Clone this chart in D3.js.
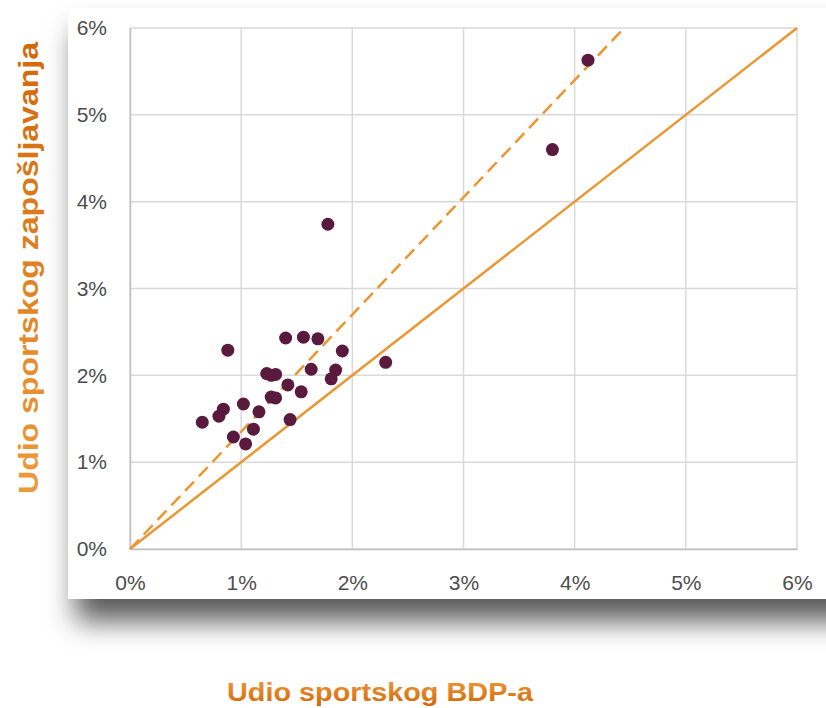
<!DOCTYPE html>
<html>
<head>
<meta charset="utf-8">
<script src="https://cdn.jsdelivr.net/npm/d3@7"></script>
<style>
  body { margin: 0; background: #fff; }
  svg { display: block; }
</style>
</head>
<body>
<svg id="chart"></svg>
<script>
const W = 826, H = 708;

// share of sport in GDP (%) vs share of sport in employment (%)
const gdpShare = [0.88, 1.40, 1.56, 1.69, 1.91, 2.30, 1.63, 1.85, 1.81, 1.23, 1.27, 1.31,
  1.42, 1.54, 1.02, 1.27, 1.31, 0.84, 0.80, 1.16, 0.65, 1.44, 1.11, 0.93, 1.04,
  4.12, 3.80, 1.78];
const empShare = [2.29, 2.43, 2.44, 2.42, 2.28, 2.15, 2.07, 2.06, 1.96, 2.02, 2.00, 2.01,
  1.89, 1.81, 1.67, 1.75, 1.74, 1.61, 1.53, 1.58, 1.46, 1.49, 1.38, 1.29, 1.21,
  5.63, 4.60, 3.74];
const ticks = [0, 1, 2, 3, 4, 5, 6];
const equalLine = [0, 6];       // y = x
const trendSlope = 1.35;        // dashed line y = 1.35 x
const xTitle = "Udio sportskog BDP-a";
const yTitle = "Udio sportskog zapošljavanja";

const margin = {top: 28, left: 130, right: 29, bottom: 159};

const svg = d3.select("#chart").attr("width", W).attr("height", H);
const defs = svg.append("defs");

let shadow = defs.append("filter").attr("id", "shadow")
  .attr("x", "-10%").attr("y", "-10%").attr("width", "130%").attr("height", "140%");
shadow.append("feDropShadow")
  .attr("dx", 8).attr("dy", 22).attr("stdDeviation", 14)
  .attr("flood-color", "#000").attr("flood-opacity", 0.65);

let grad = defs.append("linearGradient").attr("id", "titleGrad")
  .attr("x1", 0).attr("y1", 0).attr("x2", 0).attr("y2", 1);
grad.append("stop").attr("offset", "0%").attr("stop-color", "#ef9a3a");
grad.append("stop").attr("offset", "100%").attr("stop-color", "#d2680a");

let gradV = defs.append("linearGradient").attr("id", "titleGradV")
  .attr("x1", 0).attr("y1", 0).attr("x2", 1).attr("y2", 0);
gradV.append("stop").attr("offset", "0%").attr("stop-color", "#ef9a3a");
gradV.append("stop").attr("offset", "100%").attr("stop-color", "#d2680a");

// white panel with drop shadow
svg.append("rect")
  .attr("x", 68).attr("y", 8)
  .attr("width", 790).attr("height", 591)
  .attr("fill", "#fff")
  .attr("filter", "url(#shadow)");
svg.append("rect")
  .attr("x", 68).attr("y", 8)
  .attr("width", 790).attr("height", 591)
  .attr("fill", "#fff");

const x = d3.scaleLinear().domain([0, 6]).range([margin.left, W - margin.right]);
const y = d3.scaleLinear().domain([0, 6]).range([H - margin.bottom, margin.top]);

// grid
let grid = svg.append("g");
grid.selectAll("line.v").data(ticks).enter().append("line")
  .attr("x1", d => x(d)).attr("x2", d => x(d))
  .attr("y1", y(0)).attr("y2", y(6))
  .attr("stroke", "#d9d9d9").attr("stroke-width", 1.5);
grid.selectAll("line.h").data(ticks).enter().append("line")
  .attr("x1", x(0)).attr("x2", x(6))
  .attr("y1", d => y(d)).attr("y2", d => y(d))
  .attr("stroke", "#d9d9d9").attr("stroke-width", 1.5);

// axes
let xAxis = svg.append("g")
  .attr("transform", `translate(0,${y(0)})`)
  .call(d3.axisBottom(x).tickValues(ticks).tickSize(0).tickPadding(26).tickFormat(d => d + "%"));
let yAxis = svg.append("g")
  .attr("transform", `translate(${x(0)},0)`)
  .call(d3.axisLeft(y).tickValues(ticks).tickSize(0).tickPadding(23).tickFormat(d => d + "%"));
[xAxis, yAxis].forEach(a => {
  a.select(".domain").attr("stroke", "#bfbfbf").attr("stroke-width", 1.5);
  a.selectAll("text")
    .attr("fill", "#4d4d4d")
    .attr("font-family", "Liberation Sans, Arial, sans-serif")
    .attr("font-size", 21);
});

// reference lines
svg.append("line")
  .attr("x1", x(equalLine[0])).attr("y1", y(equalLine[0]))
  .attr("x2", x(equalLine[1])).attr("y2", y(equalLine[1]))
  .attr("stroke", "#eb9630").attr("stroke-width", 2.5);
const trendEnd = 6 / trendSlope;
svg.append("line")
  .attr("x1", x(0)).attr("y1", y(0))
  .attr("x2", x(trendEnd)).attr("y2", y(trendEnd * trendSlope))
  .attr("stroke", "#eb9630").attr("stroke-width", 2.5)
  .attr("stroke-dasharray", "13,7");

// points
svg.append("g").selectAll("circle")
  .data(gdpShare.map((g, i) => [g, empShare[i]]))
  .enter().append("circle")
  .attr("cx", d => x(d[0]))
  .attr("cy", d => y(d[1]))
  .attr("r", 6.5)
  .attr("fill", "#5a1a3d");

// axis titles
svg.append("text")
  .attr("x", 380).attr("y", 701)
  .attr("text-anchor", "middle")
  .attr("font-family", "Liberation Sans, Arial, sans-serif")
  .attr("font-weight", "bold")
  .attr("font-size", 25)
  .attr("textLength", 306).attr("lengthAdjust", "spacingAndGlyphs")
  .attr("fill", "url(#titleGrad)")
  .text(xTitle);
svg.append("text")
  .attr("transform", "translate(38,268) rotate(-90)")
  .attr("text-anchor", "middle")
  .attr("font-family", "Liberation Sans, Arial, sans-serif")
  .attr("font-weight", "bold")
  .attr("font-size", 27)
  .attr("textLength", 452).attr("lengthAdjust", "spacingAndGlyphs")
  .attr("fill", "url(#titleGradV)")
  .text(yTitle);
</script>
</body>
</html>
